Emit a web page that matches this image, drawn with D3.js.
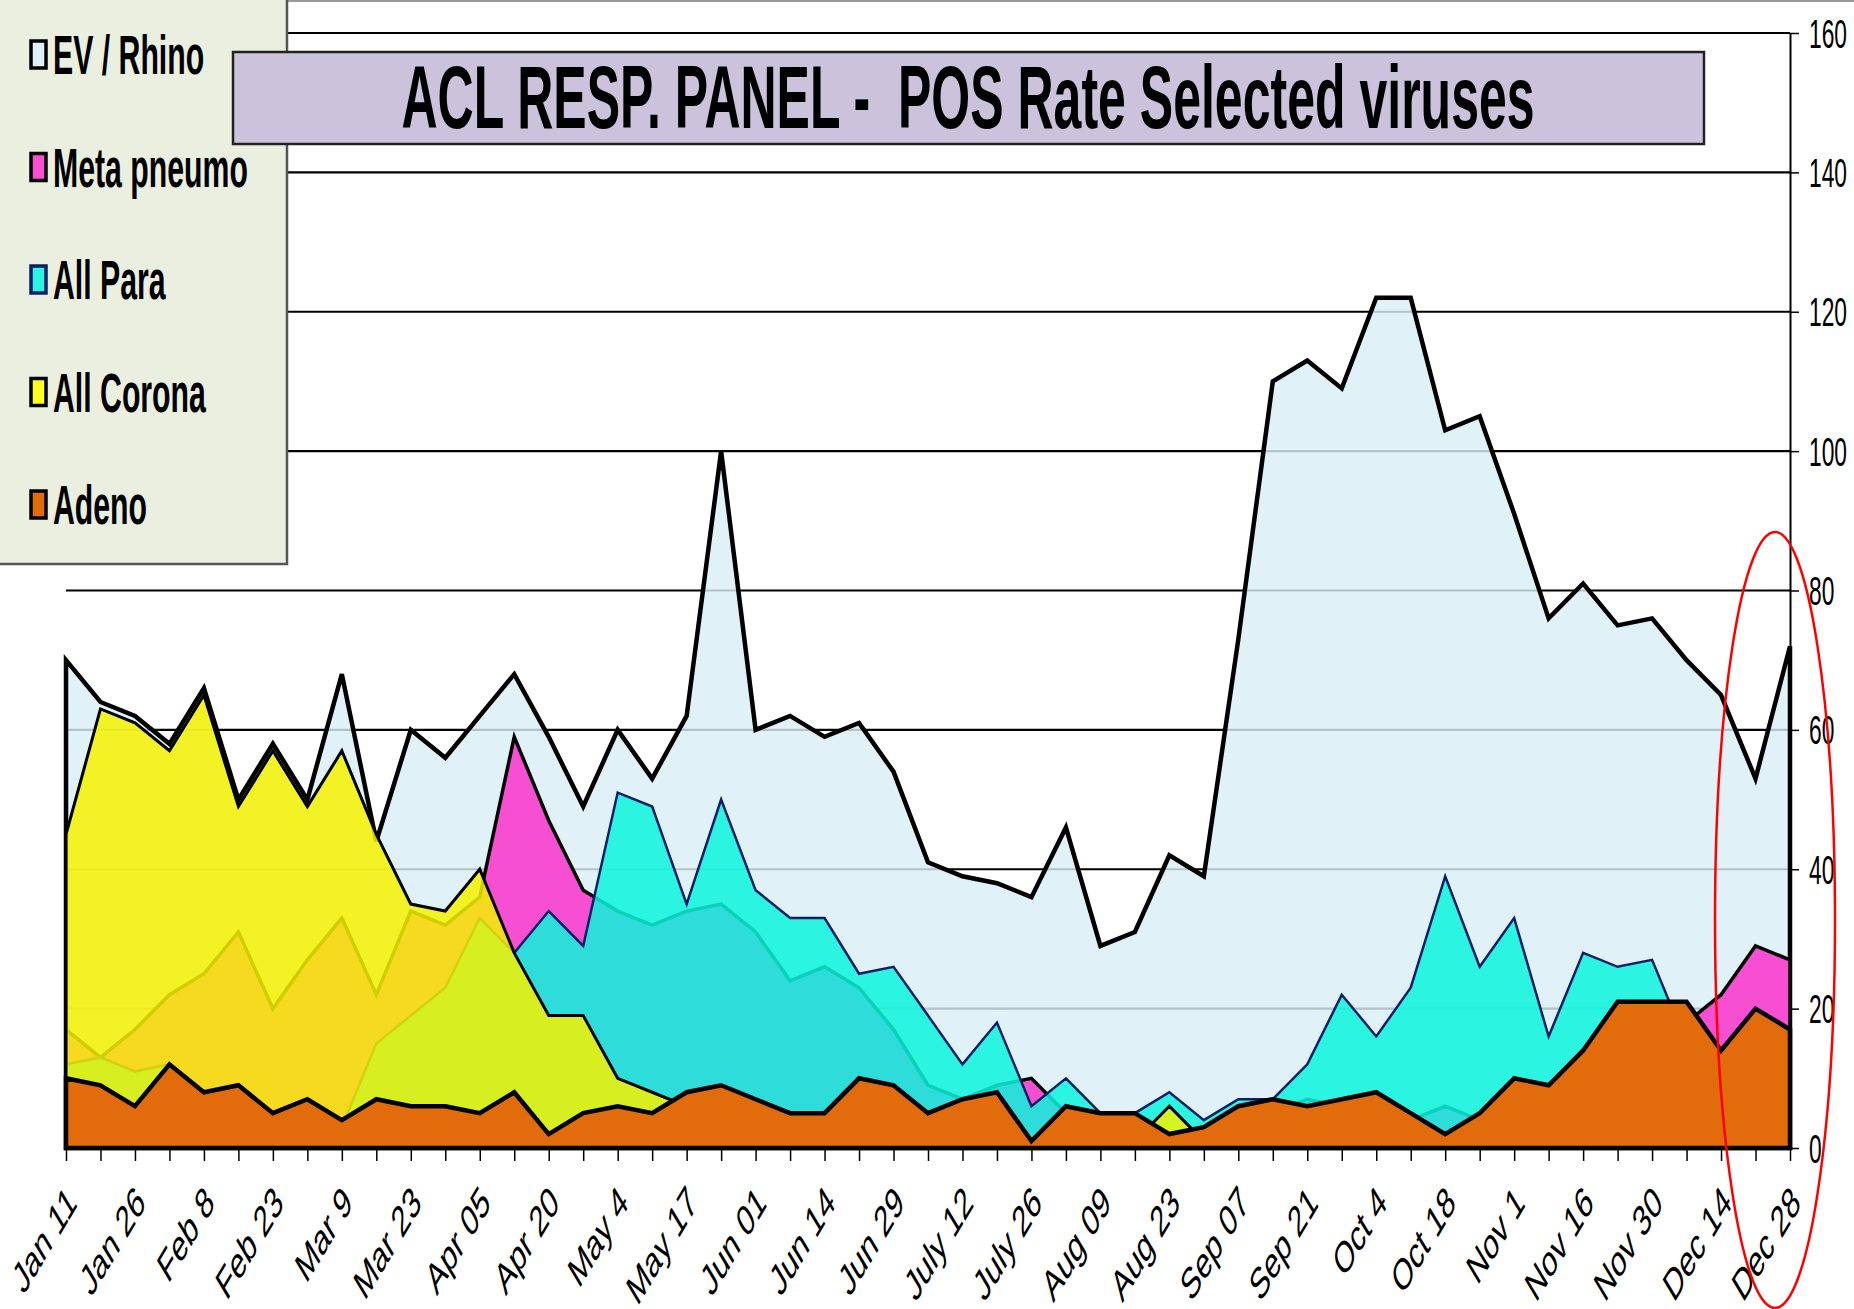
<!doctype html>
<html>
<head>
<meta charset="utf-8">
<style>
  body { margin: 0; background: #fff; }
  svg text { font-family: "Liberation Sans", Arial, sans-serif; fill: #000; }
</style>
<script src="https://d3js.org/d3.v7.min.js"></script>
</head>
<body>
<svg width="1854" height="1309"></svg>
<script>
// week tick labels (one label every second week)
var tickLabels = ["Jan 11","Jan 26","Feb 8","Feb 23","Mar 9","Mar 23","Apr 05","Apr 20","May 4","May 17",
  "Jun 01","Jun 14","Jun 29","July 12","July 26","Aug 09","Aug 23","Sep 07","Sep 21","Oct 4",
  "Oct 18","Nov 1","Nov 16","Nov 30","Dec 14","Dec 28"];

// weekly values, 51 weeks
var evRhino    = [70,64,62,58,66,50,58,50,68,44,60,56,62,68,59,49,60,53,62,100,60,62,59,61,54,41,39,38,36,46,29,31,42,39,73,110,113,109,122,122,103,105,91,76,81,75,76,70,65,53,72];
var metaPneumo = [17,13,17,22,25,31,20,27,33,22,34,32,36,59,47,37,34,32,34,35,31,24,26,23,17,9,7,9,10,5,4,4,1,2,4,5,7,6,7,4,6,4,9,8,12,18,19,18,22,29,27];
var allPara    = [12,13,11,12,6,7,4,5,3,15,19,23,33,28,34,29,51,49,35,50,37,33,33,25,26,19,12,18,6,10,5,5,8,4,7,7,12,22,16,23,39,26,33,16,28,26,27,15,9,9,9];
var allCorona  = [45,63,61,57,65,49,57,49,57,45,35,34,40,28,19,19,10,8,6,5,4,3,3,4,4,3,3,2,0,2,2,1,6,1,2,2,1,1,2,1,0,1,2,3,4,5,6,5,4,6,5];
var adeno      = [10,9,6,12,8,9,5,7,4,7,6,6,5,8,2,5,6,5,8,9,7,5,5,10,9,5,7,8,1,6,5,5,2,3,6,7,6,7,8,5,2,5,10,9,14,21,21,21,14,20,17];

var yTicks = [0,20,40,60,80,100,120,140,160];

var svg = d3.select("svg"),
    plotLeft = 66, plotRight = 1790, plotTop = 33, plotBottom = 1148,
    squish = 0.57;

var x = d3.scalePoint().domain(d3.range(adeno.length)).range([plotLeft, plotRight]),
    y = d3.scaleLinear().domain([0, 160]).range([plotBottom, plotTop]);

// back to front, like the original overlapping areas
var series = [
  {name: "EV / Rhino",  values: evRhino,    fill: "#dbeef6", op: 0.82, stroke: "#000",    sw: 4.5, key: "#e0eff5"},
  {name: "Meta pneumo", values: metaPneumo, fill: "#f64fd2", op: 1,    stroke: "#000",    sw: 3.5, key: "#f850d0"},
  {name: "All Para",    values: allPara,    fill: "#0af6dc", op: 0.85, stroke: "#0c1f66", sw: 2.5, key: "#2af5e0"},
  {name: "All Corona",  values: allCorona,  fill: "#f5f200", op: 0.85, stroke: "#000",    sw: 3,   key: "#ffff20"},
  {name: "Adeno",       values: adeno,      fill: "#e26c0b", op: 1,    stroke: "#000",    sw: 4.5, key: "#e26c0b"}
];

// frame line on top
svg.append("line").attr("x1", 0).attr("x2", 1854).attr("y1", 1).attr("y2", 1)
  .attr("stroke", "#999").attr("stroke-width", 2);

// gridlines
svg.append("g").selectAll("line")
  .data(yTicks.filter(function(d) { return d > 0; }))
  .enter().append("line")
  .attr("x1", plotLeft).attr("x2", plotRight)
  .attr("y1", function(d) { return y(d); }).attr("y2", function(d) { return y(d); })
  .attr("stroke", "#000").attr("stroke-width", 2.2);

var area = function(vals) {
  return d3.area()
    .x(function(d, i) { return x(i); })
    .y0(y(0))
    .y1(function(d) { return y(d); })(vals);
};

var g = svg.append("g");
series.forEach(function(s) {
  g.append("path")
    .attr("d", area(s.values))
    .attr("fill", s.fill)
    .attr("fill-opacity", s.op)
    .attr("stroke", s.stroke)
    .attr("stroke-width", s.sw)
    .attr("stroke-linejoin", "miter");
});

// x axis
var xAxis = svg.append("g")
  .attr("transform", "translate(0," + plotBottom + ")")
  .call(d3.axisBottom(x).tickSize(13).tickSizeOuter(0)
    .tickFormat(function(d) { return d % 2 === 0 ? tickLabels[d / 2] : ""; }));
xAxis.select(".domain").attr("stroke-width", 2.5);
xAxis.selectAll(".tick line").attr("stroke-width", 1.5);
xAxis.selectAll(".tick text")
  .attr("x", 0).attr("y", 0).attr("dy", "0.35em")
  .attr("transform", "translate(5,46) scale(0.6,1) rotate(-45)")
  .style("text-anchor", "end")
  .style("font-size", "44px");

// y axis on the right
var yAxis = svg.append("g")
  .attr("transform", "translate(" + plotRight + ",0)")
  .call(d3.axisRight(y).tickValues(yTicks).tickSize(9).tickSizeOuter(0));
yAxis.select(".domain").attr("stroke-width", 2);
yAxis.selectAll(".tick line").attr("stroke-width", 1.5);
yAxis.selectAll(".tick text")
  .attr("x", 0).attr("dy", "0.35em")
  .attr("transform", "translate(19,0) scale(" + squish + ",1)")
  .style("text-anchor", "start")
  .style("font-size", "40px");

// legend
var legend = svg.append("g");
legend.append("rect")
  .attr("x", -3).attr("y", -3).attr("width", 290).attr("height", 567)
  .attr("fill", "#ebefdf").attr("stroke", "#555").attr("stroke-width", 2.5);
series.forEach(function(s, i) {
  var base = 74 + i * 112.5;
  legend.append("rect")
    .attr("x", 31).attr("y", base - 33).attr("width", 15).attr("height", 27)
    .attr("fill", s.key)
    .attr("stroke", s.name === "All Para" ? "#0c1f66" : "#000")
    .attr("stroke-width", 3.5);
  legend.append("text")
    .attr("transform", "translate(53," + base + ") scale(0.54,1)")
    .style("font-size", "56px")
    .style("font-weight", "bold")
    .text(s.name);
});

// title box
svg.append("rect")
  .attr("x", 233).attr("y", 52).attr("width", 1471).attr("height", 92)
  .attr("fill", "#cbc3dc").attr("stroke", "#222").attr("stroke-width", 2.5);
svg.append("text")
  .attr("transform", "translate(968,128) scale(0.562,1)")
  .style("text-anchor", "middle")
  .style("font-size", "89px")
  .style("font-weight", "bold")
  .style("white-space", "pre")
  .text("ACL RESP. PANEL -  POS Rate Selected viruses");

// red hand-drawn ellipse
svg.append("ellipse")
  .attr("cx", 1775).attr("cy", 920).attr("rx", 60).attr("ry", 388)
  .attr("fill", "none").attr("stroke", "#ff0000").attr("stroke-width", 2.5);
</script>
</body>
</html>
